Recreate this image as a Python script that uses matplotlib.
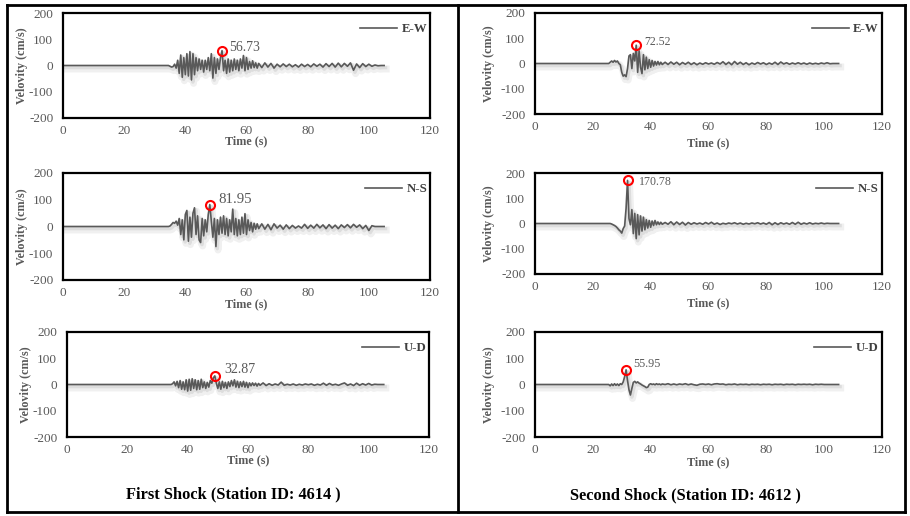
import numpy as np
import matplotlib
matplotlib.use("Agg")
import matplotlib.pyplot as plt
import matplotlib.patheffects as pe
from matplotlib.lines import Line2D

plt.rcParams["font.family"] = ["Liberation Serif", "DejaVu Serif"]
plt.rcParams["axes.unicode_minus"] = False

W, H = 910, 516
GRAY = "#595959"

# ---- first shock, station 4614 (quiet until 35 s, 0.5 s steps to 64 s, then 1 s steps)
onset1 = 35.0
ew1_dense = [-3, -6, -4, 5, -10, 20, -30, 40, -45, 30, -35, 45, -40, 53, -55, 45, -35, 30,
             -20, 25, -15, 20, -25, 20, -15, 30, -20, 45, -48, 30, -30, 25, -15, 30, 56.73,
             -20, 20, -30, 25, -25, 20, -20, 25, -15, 20, -20, 25, -10, 38, -20, 30, -15,
             15, -10, 18, -8, 10, -10, 8]
ew1_tail = [-8, 10, -6, 8, -10, 5, -5, 6, -4, 5, -5, 3, -6, 5, -4, 4, -5, 6, -3, 5, -6, 7,
            -4, 8, -6, 9, -5, 8, -3, 10, -18, 6, -8, 7, -4, 5, -3, 2, -1, 0, 0]

ns1_dense = [2, 8, 15, 12, 20, 5, 30, -30, 25, -50, 45, 60, -55, 35, -40, 50, 70, -30, 40,
             -50, -60, 30, -35, 25, -20, 45, 81.95, 20, -40, 30, -75, 25, -30, 35, -25, 40,
             -30, 30, -35, 25, -20, 65, -30, 30, -35, 25, -30, 35, -25, 48, -30, 25, -15,
             15, -20, 12, -10, 10, -8]
ns1_tail = [10, -10, 8, -12, 10, -6, 5, -10, 6, -8, 4, -6, 2, -6, 8, -7, 5, -6, 8, -5, 6, -8,
            7, -6, 5, -8, 6, -4, 7, -5, 8, -3, 6, -8, 4, -15, 3, 0, 0, 0, 0]

ud1_dense = [3, 10, -5, 12, -12, 15, -18, 10, -20, 18, -25, 20, -22, 22, -15, 18, -20, 15,
             -18, 20, -12, 10, -15, 8, -10, 15, 5, 25, 32.87, 5, -15, 10, -18, 12, -12, 8,
             -15, 10, -8, 15, -5, 18, -10, 12, -12, 10, -8, 12, -10, 8, -12, 6, -5, 6, -4,
             5, -6, 4, -3]
ud1_tail = [6, -4, 3, -3, 2, -2, 9, -3, 1, -2, 2, -3, 1, -2, 2, -1, 2, -3, 1, -2, 5, -3, 4,
            -2, 1, -3, 2, 6, -3, 2, -4, 5, -3, 3, -2, 4, -2, 1, 0, 0, 0]

# ---- second shock, station 4612 (quiet until 26 s, 0.5 s steps to 44 s, then 1 s steps)
onset2 = 26.0
ew2_dense = [5, 10, 5, 12, 6, 10, 0, -5, -35, -50, -45, -52, -20, 30, 35, -20, 40, 10,
             72.52, -35, 50, -15, -40, 35, -25, 25, -20, 15, -15, 12, -10, 8, -6, 8, -5, 5, -4]
ew2_tail = [5, -4, 6, -3, 5, -5, 4, -3, 5, -4, 3, -5, 2, -3, 3, -2, 2, -3, 4, -2, 7, -4, 5,
            -5, 8, -3, 5, -4, 3, -5, 2, -3, 4, -2, 3, -4, 2, -3, 5, -4, 6, -2, 3, -3, 2, -2,
            3, -2, 2, -3, 2, -2, 1, -2, 2, -1, 3, -1, 0, 0, 0]

ns2_dense = [0, -2, -5, -8, -12, -18, -25, -30, -38, -20, -10, 60, 170.78, 20, -5, 55, -40,
             40, -60, 35, -45, 30, -30, 25, -25, 15, -18, 12, -15, 10, -8, 12, -5, 6, -4, 5, -3]
ns2_tail = [4, -3, 7, -5, 6, -4, 5, -6, 4, -3, 3, -2, 2, -3, 4, -2, 5, -3, 2, -4, 1, -2, 2,
            -1, 3, -2, 2, -3, 1, -2, 2, -1, 3, -2, 2, -3, 4, -5, 3, -4, 3, -2, 2, -3, 4, -3,
            5, -3, 2, -2, 3, -2, 1, -1, 2, -1, 1, 0, 0, 0, 0]

ud2_dense = [-5, 2, -4, 3, -3, 2, -4, 3, 0, 10, 30, 55.95, 15, -20, -40, -15, 8, 12, 6, 10,
             5, 2, -2, -5, -8, -12, -10, 0, 3, 0, 2, -1, 3, 0, 2, -1, 2]
ud2_tail = [0, 3, -1, 2, -1, 2, 0, 3, -1, 2, -1, -3, 1, 2, 0, 2, -1, 2, 3, 1, 2, -1, 1, 0, 2,
            -1, 1, 0, 1, -1, 1, 0, 1, -1, 1, 0, 1, -1, 1, 0, 1, -1, 1, 0, 1, -1, 1, 0, 1, 0,
            1, -1, 1, 0, 1, 0, 0, 0, 0, 0, 0]

xticks = [0, 20, 40, 60, 80, 100, 120]
yticks = [-200, -100, 0, 100, 200]
captions = ["First Shock (Station ID: 4614 )", "Second Shock (Station ID: 4612 )"]


def series(onset, dense, tail):
    t_dense = onset + 0.5 * np.arange(len(dense))
    t_tail = t_dense[-1] + 1 + np.arange(len(tail))
    t = np.concatenate([[0, onset - 0.5], t_dense, t_tail])
    v = np.array([0, 0] + dense + tail, dtype=float)
    return t, v


def fx(px):
    return px / W


def fy(py):
    return 1 - py / H


def panel(box, onset, dense, tail, comp, ann_fs, ann_off, ylpad, xlpad):
    l, r, top, bot = box
    ax = fig.add_axes([fx(l), fy(bot), (r - l) / W, (bot - top) / H])
    t, v = series(onset, dense, tail)
    ax.plot(t, v, color=GRAY, lw=1.2, label=comp,
            path_effects=[pe.SimpleLineShadow(offset=(1.5, -2.5), shadow_color="k", alpha=0.06, linewidth=5),
                          pe.SimpleLineShadow(offset=(1, -1.5), shadow_color="k", alpha=0.08, linewidth=2.5),
                          pe.Normal()])
    i = int(np.argmax(v))
    ax.plot(t[i], v[i], "o", ms=6.5, mfc="none", mec="red", mew=1.5)
    ax.annotate(f"{v[i]:.2f}", (t[i], v[i]), xytext=ann_off, textcoords="offset points",
                ha="left", va="center", fontsize=ann_fs, color=GRAY)
    ax.set_xlim(0, 120)
    ax.set_ylim(-200, 200)
    ax.set_xticks(xticks)
    ax.set_yticks(yticks)
    ax.tick_params(axis="both", length=0, labelsize=9.5, labelcolor=GRAY)
    ax.tick_params(axis="x", pad=5)
    ax.tick_params(axis="y", pad=7)
    for s in ax.spines.values():
        s.set_linewidth(1.6)
        s.set_color("black")
    ax.set_ylabel("Velovity (cm/s)", fontsize=8.7, fontweight="bold", color=GRAY, labelpad=ylpad)
    ax.set_xlabel("Time (s)", fontsize=8.7, fontweight="bold", color=GRAY, labelpad=xlpad)
    leg = ax.legend(loc="upper right", bbox_to_anchor=(1.02, 1.0), frameon=False,
                    handlelength=2.9, handletextpad=0.35, borderaxespad=0.4,
                    prop={"weight": "bold", "size": 9.2})
    for h in leg.legend_handles:
        h.set_path_effects([pe.Normal()])
    for txt in leg.get_texts():
        txt.set_color("#404040")
    return ax


fig = plt.figure(figsize=(W / 100, H / 100), dpi=100)

panel((63, 430, 13, 118), onset1, ew1_dense, ew1_tail, "E-W", 9.9, (5, 2), 1, -1)
panel((63, 430, 173, 280), onset1, ns1_dense, ns1_tail, "N-S", 10.7, (6.5, 4), 1, -0.5)
panel((67, 429, 332, 437), onset1, ud1_dense, ud1_tail, "U-D", 10.1, (6.5, 4.3), 1, -1)
panel((535, 882, 13, 114), onset2, ew2_dense, ew2_tail, "E-W", 8.5, (6, 2.5), 4, 3)
panel((535, 882, 173, 274), onset2, ns2_dense, ns2_tail, "N-S", 8.6, (8.5, -1), 4, 3)
panel((535, 882, 332, 437), onset2, ud2_dense, ud2_tail, "U-D", 8.7, (5, 4), 4, 0)

fig.text(fx(233), fy(494), captions[0], ha="center", va="center", fontsize=11.8, fontweight="bold")
fig.text(fx(685), fy(495), captions[1], ha="center", va="center", fontsize=11.8, fontweight="bold")

# outer frame and column divider
frame = [((7, 7), (5, 512)), ((905, 905), (5, 512)), ((7, 905), (5, 5)), ((7, 905), (512, 512)),
         ((458, 458), (5, 512))]
for xs, ys in frame:
    fig.add_artist(Line2D([fx(x) for x in xs], [fy(y) for y in ys], color="black", lw=2.0,
                          solid_capstyle="projecting"))

fig.savefig("out.png", dpi=100)
